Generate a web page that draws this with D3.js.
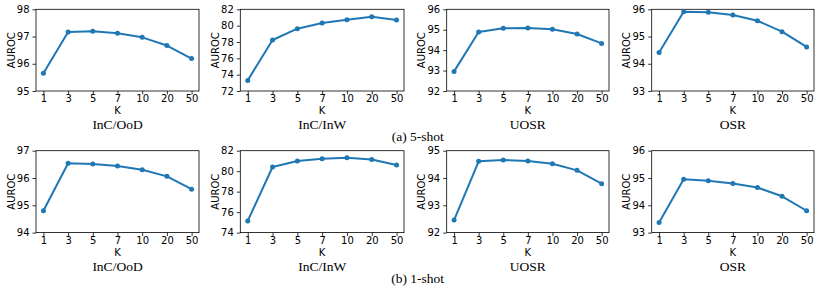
<!DOCTYPE html>
<html>
<head>
<meta charset="utf-8">
<script src="https://cdn.jsdelivr.net/npm/d3@7"></script>
<style>
  html, body { margin: 0; padding: 0; background: #fff; }
  svg { display: block; }
  .sans { font-family: "DejaVu Sans", Verdana, sans-serif; }
  .serif { font-family: "Liberation Serif", "Times New Roman", serif; }
</style>
</head>
<body>
<svg id="chart" width="822" height="294"></svg>
<script>
// ---- data ----
const kLabels = ["1", "3", "5", "7", "10", "20", "50"];
const panelTitles = ["InC/OoD", "InC/InW", "UOSR", "OSR"];
const rowCaptions = ["(a) 5-shot", "(b) 1-shot"];

// 5-shot
const fiveInCOoD = [95.65, 97.17, 97.19, 97.12, 96.97, 96.67, 96.19];
const fiveInCInW = [73.3, 78.24, 79.63, 80.33, 80.73, 81.1, 80.7];
const fiveUOSR   = [92.96, 94.89, 95.07, 95.09, 95.02, 94.79, 94.33];
const fiveOSR    = [94.41, 95.91, 95.89, 95.79, 95.58, 95.18, 94.62];
// 1-shot
const oneInCOoD = [94.8, 96.54, 96.51, 96.44, 96.3, 96.06, 95.59];
const oneInCInW = [75.14, 80.41, 81.0, 81.22, 81.32, 81.15, 80.6];
const oneUOSR   = [92.46, 94.61, 94.66, 94.62, 94.52, 94.28, 93.79];
const oneOSR    = [93.37, 94.95, 94.9, 94.8, 94.65, 94.33, 93.8];

// y-axis tick values per panel
const ticks5 = [[95, 96, 97, 98], [72, 74, 76, 78, 80, 82], [92, 93, 94, 95, 96], [93, 94, 95, 96]];
const ticks1 = [[94, 95, 96, 97], [74, 76, 78, 80, 82], [92, 93, 94, 95], [93, 94, 95, 96]];

const rows = [
  { series: [fiveInCOoD, fiveInCInW, fiveUOSR, fiveOSR], ticks: ticks5, caption: rowCaptions[0] },
  { series: [oneInCOoD, oneInCInW, oneUOSR, oneOSR], ticks: ticks1, caption: rowCaptions[1] }
];

// ---- layout ----
const colX = [[36, 199], [240.3, 404], [446.7, 609], [651.7, 814]];
const rowY = [[9.3, 91], [150.7, 232.6]];
const blue = "#1f77b4";

const svg = d3.select("#chart");

rows.forEach((row, ri) => {
  const [top, bottom] = rowY[ri];
  row.series.forEach((vals, ci) => {
    const [left, right] = colX[ci];
    const tv = row.ticks[ci];
    const x = d3.scalePoint().domain(kLabels).range([left, right]).padding(0.3);
    const y = d3.scaleLinear().domain([tv[0], tv[tv.length - 1]]).range([bottom, top]);
    const g = svg.append("g");

    // axes
    const xAxis = d3.axisBottom(x).tickSize(3.5).tickPadding(0.8);
    const yAxis = d3.axisLeft(y).tickValues(tv).tickFormat(d3.format("d")).tickSize(3.5).tickPadding(3);
    const gx = g.append("g").attr("transform", `translate(0,${bottom})`).call(xAxis);
    const gy = g.append("g").attr("transform", `translate(${left},0)`).call(yAxis);
    [gx, gy].forEach(a => {
      a.attr("font-family", null).attr("font-size", null).attr("class", "sans");
      a.select(".domain").remove();
      a.selectAll(".tick line").attr("stroke", "#000").attr("stroke-width", 0.8);
      a.selectAll(".tick text").attr("fill", "#000").attr("font-size", "10px");
    });

    // frame
    g.append("rect")
      .attr("x", left).attr("y", top)
      .attr("width", right - left).attr("height", bottom - top)
      .attr("fill", "none").attr("stroke", "#000").attr("stroke-width", 0.8);

    // line + markers
    const line = d3.line().x((d, i) => x(kLabels[i])).y(d => y(d));
    g.append("path").datum(vals)
      .attr("d", line).attr("fill", "none")
      .attr("stroke", blue).attr("stroke-width", 2).attr("stroke-linejoin", "round");
    g.selectAll("circle").data(vals).enter().append("circle")
      .attr("cx", (d, i) => x(kLabels[i])).attr("cy", d => y(d))
      .attr("r", 2.5).attr("fill", blue);

    // labels
    g.append("text").attr("class", "sans")
      .attr("transform", `translate(${left - 21.5},${(top + bottom) / 2}) rotate(-90)`)
      .attr("text-anchor", "middle").attr("font-size", "10px").text("AUROC");
    g.append("text").attr("class", "sans")
      .attr("x", (left + right) / 2).attr("y", bottom + 23)
      .attr("text-anchor", "middle").attr("font-size", "10px").text("K");
    g.append("text").attr("class", "serif")
      .attr("x", (left + right) / 2).attr("y", bottom + 38)
      .attr("text-anchor", "middle").attr("font-size", "13.5px").text(panelTitles[ci]);
  });

  svg.append("text").attr("class", "serif")
    .attr("x", 417.7).attr("y", bottom + 50)
    .attr("text-anchor", "middle").attr("font-size", "13.5px").text(row.caption);
});
</script>
</body>
</html>
